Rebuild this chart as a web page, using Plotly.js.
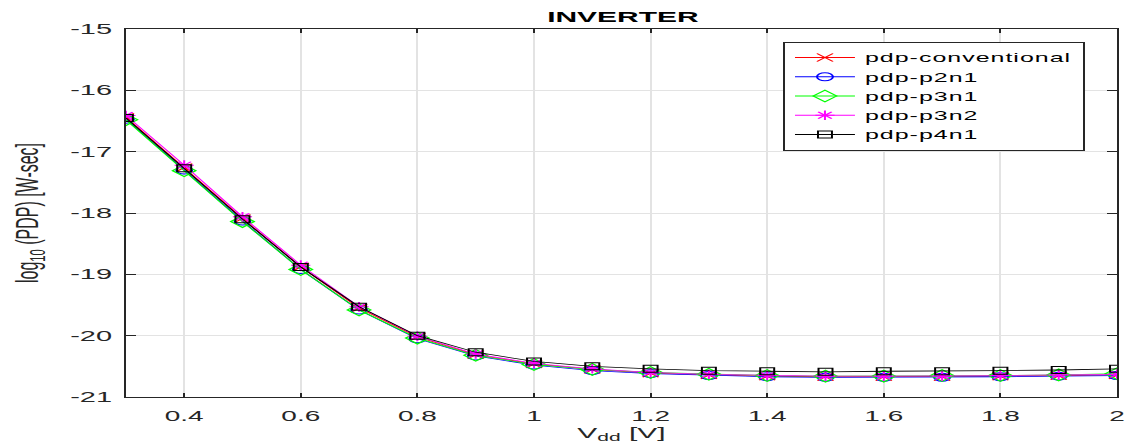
<!DOCTYPE html>
<html>
<head>
<meta charset="utf-8">
<script src="https://cdn.plot.ly/plotly-3.0.1.min.js"></script>
<style>
html,body{margin:0;padding:0;background:#fff;overflow:hidden;width:1125px;height:448px;}
#chart{width:563px;height:448px;transform-origin:0 0;transform:scaleX(1.998224);}
.legendtext{letter-spacing:0.5px;}
</style>
</head>
<body>
<div id="chart"></div>
<script>
// Data (x: Vdd in volts, y: log10 of PDP in W-sec)
const vdd = [0.3,0.4,0.5,0.6,0.7,0.8,0.9,1.0,1.1,1.2,1.3,1.4,1.5,1.6,1.7,1.8,1.9,2.0];
const pdpConventional = [-16.44,-17.26,-18.09,-18.88,-19.55,-20.02,-20.31,-20.46,-20.55,-20.61,-20.64,-20.66,-20.67,-20.67,-20.67,-20.66,-20.65,-20.64];
const pdpP2n1 = [-16.47,-17.30,-18.13,-18.92,-19.58,-20.05,-20.33,-20.48,-20.57,-20.62,-20.65,-20.67,-20.68,-20.68,-20.68,-20.67,-20.66,-20.65];
const pdpP3n1 = [-16.48,-17.31,-18.14,-18.92,-19.58,-20.04,-20.32,-20.47,-20.55,-20.60,-20.63,-20.65,-20.66,-20.66,-20.65,-20.65,-20.64,-20.62];
const pdpP3n2 = [-16.41,-17.22,-18.06,-18.85,-19.53,-20.01,-20.30,-20.45,-20.54,-20.60,-20.63,-20.65,-20.66,-20.66,-20.66,-20.65,-20.64,-20.63];
const pdpP4n1 = [-16.45,-17.27,-18.10,-18.88,-19.53,-20.00,-20.27,-20.42,-20.50,-20.54,-20.57,-20.58,-20.59,-20.58,-20.58,-20.57,-20.56,-20.54];
const seriesNames = ['pdp-conventional','pdp-p2n1','pdp-p3n1','pdp-p3n2','pdp-p4n1'];
const xTicks = [0.4,0.6,0.8,1.0,1.2,1.4,1.6,1.8,2.0];
const xTickText = ['0.4','0.6','0.8','1','1.2','1.4','1.6','1.8','2'];
const yTicks = [-21,-20,-19,-18,-17,-16,-15];
const yTickText = ['-21','-20','-19','-18','-17','-16','-15'];

const styles = [
  {c:'#ff0000', s:'x-thin-open', sz:8},
  {c:'#0000ff', s:'circle-open', sz:8},
  {c:'#00ff00', s:'diamond-open', sz:9},
  {c:'#ff00ff', s:'asterisk-open', sz:8},
  {c:'#000000', s:'square-open', sz:7}
];
const ys = [pdpConventional,pdpP2n1,pdpP3n1,pdpP3n2,pdpP4n1];
const traces = ys.map((y,i)=>({
  x: vdd, y: y, name: seriesNames[i], type:'scatter', mode:'lines+markers',
  line:{color:styles[i].c, width:0.8},
  marker:{symbol:styles[i].s, size:styles[i].sz, color:styles[i].c, line:{color:styles[i].c, width:1}}
}));

const fontFam = 'Liberation Sans, Arial, sans-serif';
const layout = {
  width:563, height:448,
  margin:{l:63, r:4, t:29, b:51},
  paper_bgcolor:'#ffffff', plot_bgcolor:'#ffffff',
  font:{family:fontFam, color:'#262626', size:13},
  title:{text:'<b>INVERTER</b>', x:0.5537, xanchor:'center', y:0.962, yanchor:'middle', font:{size:15, color:'#000', family:fontFam}},
  showlegend:true,
  legend:{x:0.663, y:0.965, xanchor:'left', yanchor:'top', bgcolor:'#ffffff', bordercolor:'#262626', borderwidth:1,
          font:{size:12.5, color:'#000', family:fontFam}, tracegroupgap:0, itemwidth:30},
  xaxis:{range:[0.3,2.0], tickvals:xTicks, ticktext:xTickText, showgrid:true, gridcolor:'#e3e3e3', gridwidth:1,
         zeroline:false, showline:true, linecolor:'#262626', linewidth:1, mirror:'ticks', ticks:'inside', ticklen:4,
         tickcolor:'#262626', tickfont:{size:14, color:'#262626'}, ticklabelstandoff:6, ticklabeloverflow:'allow',
         title:{text:'V<sub>dd</sub> [V]', standoff:1, font:{size:15, color:'#262626'}}},
  yaxis:{range:[-21,-15], tickvals:yTicks, ticktext:yTickText,
         showgrid:true, gridcolor:'#e3e3e3', gridwidth:1,
         zeroline:false, showline:true, linecolor:'#262626', linewidth:1, mirror:'ticks', ticks:'inside', ticklen:5,
         tickcolor:'#262626', tickfont:{size:14.5, color:'#262626'}, ticklabelstandoff:3, ticklabeloverflow:'allow',
         title:{text:'log<sub>10</sub> (PDP) [W-sec]', standoff:11, font:{size:16, color:'#262626'}}}
};
Plotly.newPlot('chart', traces, layout, {displayModeBar:false, staticPlot:true});
</script>
</body>
</html>
